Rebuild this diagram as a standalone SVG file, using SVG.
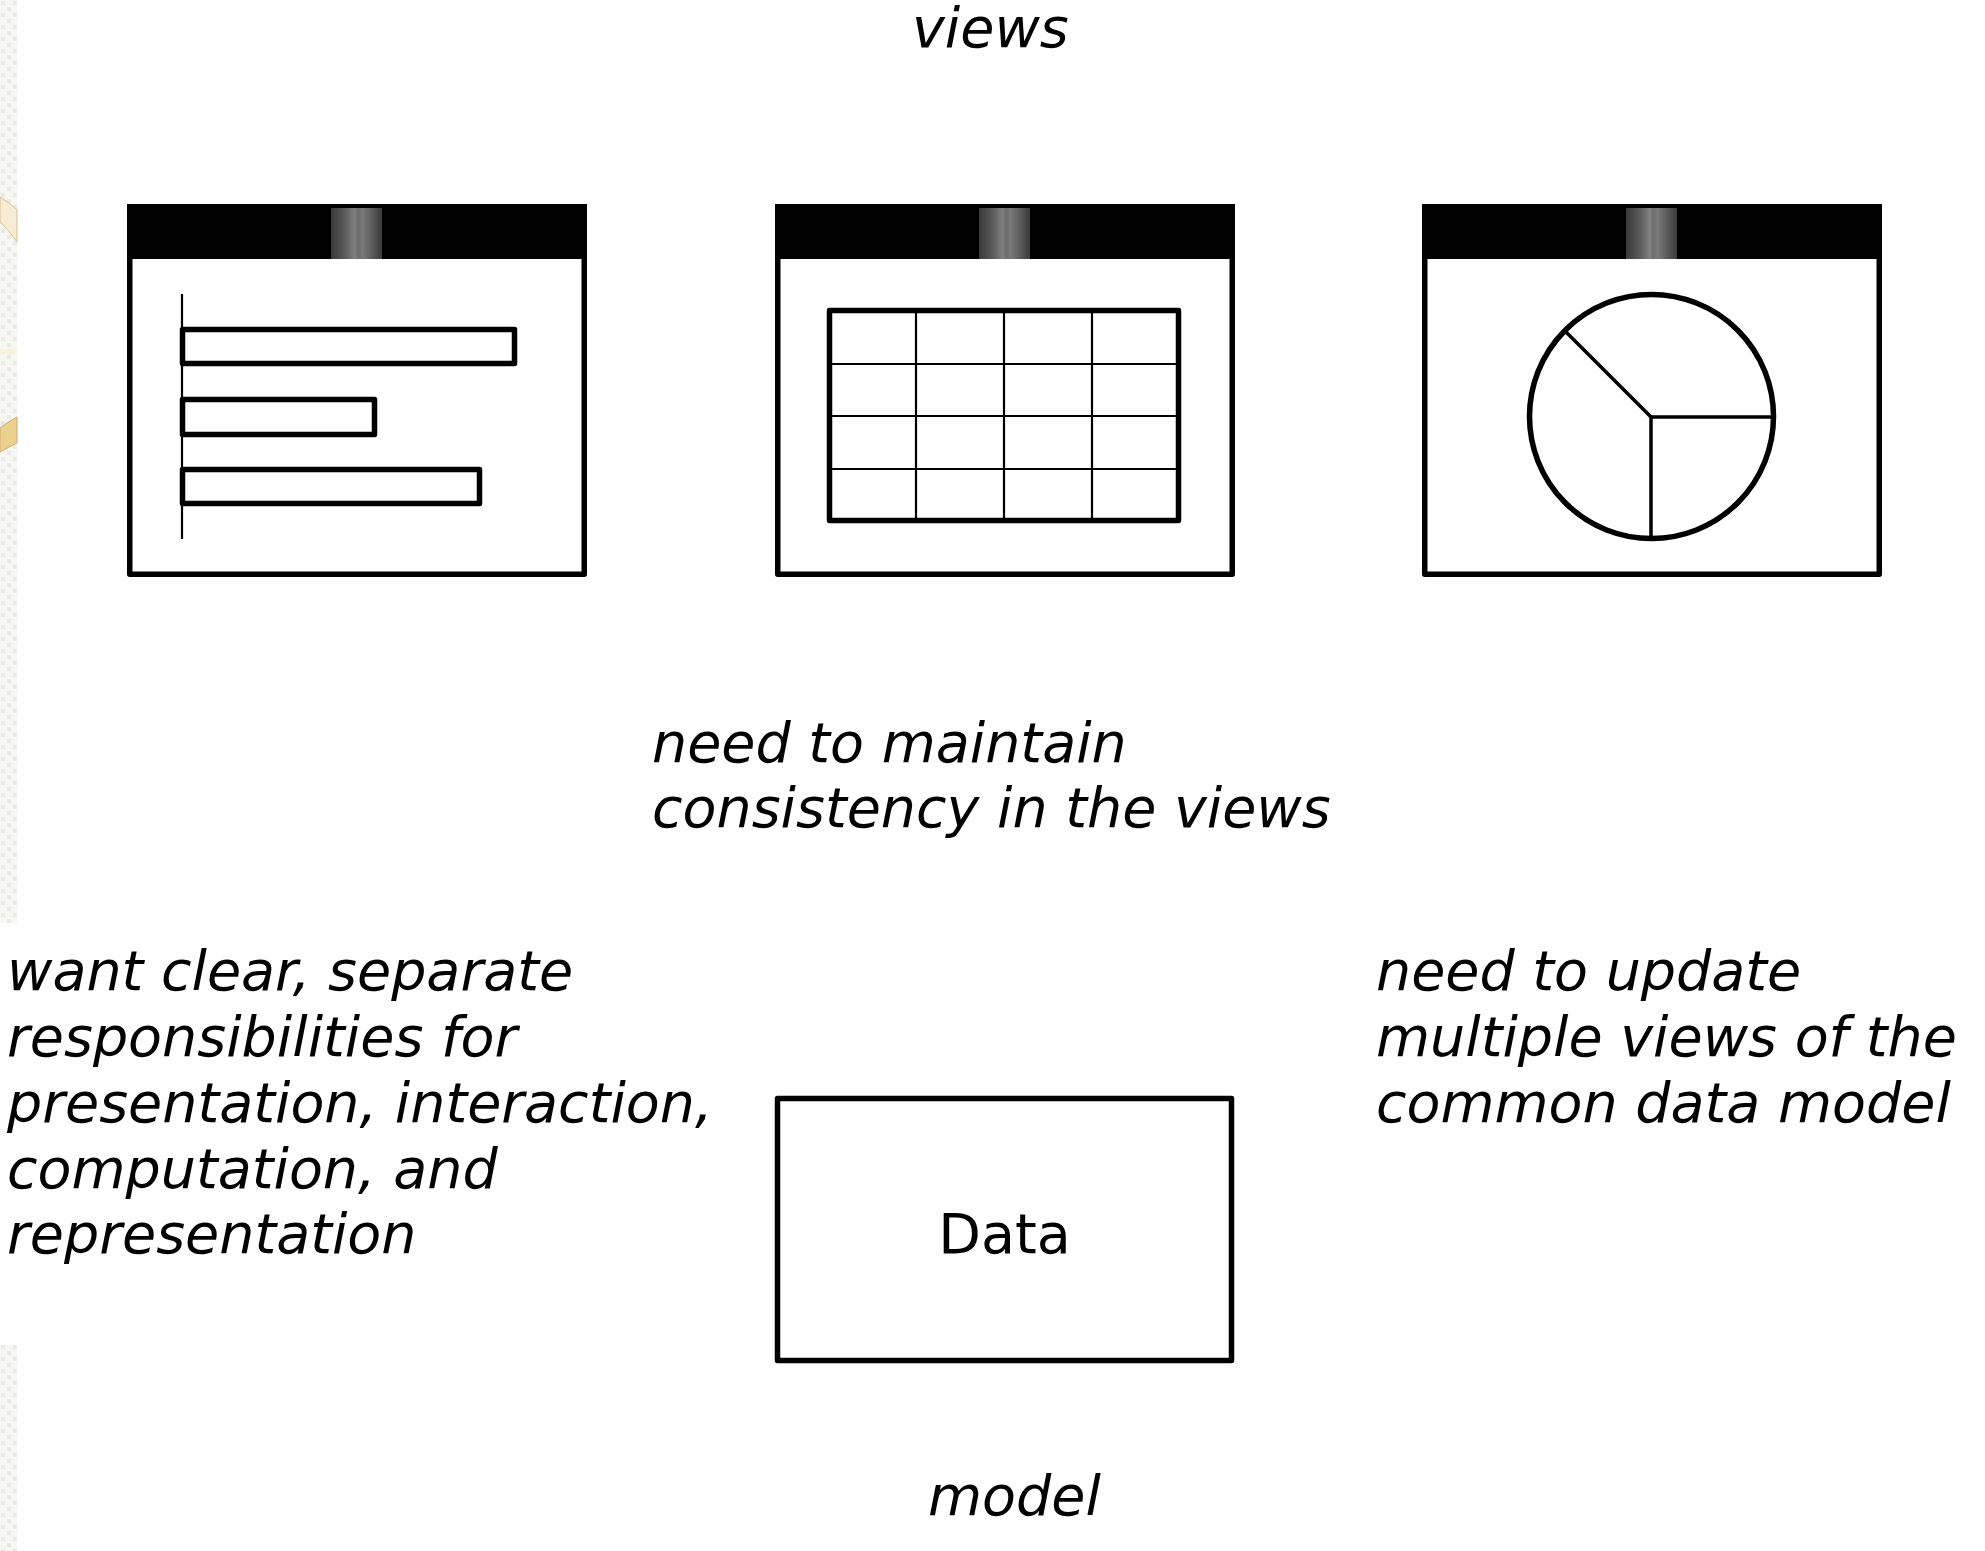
<svg xmlns="http://www.w3.org/2000/svg" width="1985" height="1551" viewBox="0 0 1985 1551">
<style>
.frame{fill:#fff;stroke:#000;stroke-width:5.5;stroke-linejoin:round}
.bar{fill:#000}
.thick{fill:none;stroke:#000;stroke-width:5.5;stroke-linejoin:round}
.thin{fill:none;stroke:#000;stroke-width:2.2}
.med{fill:none;stroke:#000;stroke-width:3.5}
.lbl{font-family:"DejaVu Sans","Liberation Sans",sans-serif;font-size:55.5px;font-style:oblique;fill:#000}
.plain{font-family:"DejaVu Sans","Liberation Sans",sans-serif;font-size:55.5px;fill:#000}
</style>
<defs>
<linearGradient id="knob" x1="0" y1="0" x2="1" y2="0">
<stop offset="0" stop-color="#3a3a3a"/>
<stop offset="0.3" stop-color="#5e5e5e"/>
<stop offset="0.47" stop-color="#828282"/>
<stop offset="0.53" stop-color="#6c6c6c"/>
<stop offset="0.62" stop-color="#7a7a7a"/>
<stop offset="1" stop-color="#3a3a3a"/>
</linearGradient>
<pattern id="checker" x="0" y="0" width="12" height="12" patternUnits="userSpaceOnUse">
<rect width="12" height="12" fill="#f7f7f4"/>
<rect x="1" y="1" width="4" height="4" fill="#e9e9e6"/>
<rect x="7" y="7" width="4" height="4" fill="#e9e9e6"/>
</pattern>
<g id="win">
<rect class="frame" x="2.75" y="2.75" width="454.5" height="367.5"/>
<rect class="bar" x="0" y="0" width="460" height="55"/>
<rect x="204" y="4" width="51" height="51" fill="url(#knob)"/>
</g>
</defs>
<rect width="1985" height="1551" fill="#fff"/>
<g id="background-strip">
<rect x="0" y="0" width="17" height="923" fill="url(#checker)"/>
<rect x="0" y="1345" width="17" height="206" fill="url(#checker)"/>
<path d="M0,197 Q9,202 17,210 L17,242 Q9,230 0,222 Z" fill="#f8ecd6" stroke="#d9c08f" stroke-width="1"/>
<rect x="0" y="349" width="17" height="5" fill="#fdf0d8"/>
<path d="M0,428 Q9,421 17,417 L17,443 Q9,447 0,452 Z" fill="#ecd08f" stroke="#c9ad72" stroke-width="1"/>
</g>
<g id="connectors"/>
<text id="label-views" class="lbl" x="912" y="47">views</text>
<g id="view-bar-chart">
<use href="#win" x="127" y="204"/>
<line class="thin" x1="182" y1="294" x2="182" y2="539"/>
<rect class="thick" x="182.5" y="329.5" width="332" height="34"/>
<rect class="thick" x="182.5" y="399.5" width="192" height="35"/>
<rect class="thick" x="182.5" y="469.5" width="297" height="34"/>
</g>
<g id="view-table">
<use href="#win" x="775" y="204"/>
<rect class="thick" x="829.5" y="310.5" width="349" height="210"/>
<line class="thin" x1="916" y1="312" x2="916" y2="519"/>
<line class="thin" x1="1004" y1="312" x2="1004" y2="519"/>
<line class="thin" x1="1092" y1="312" x2="1092" y2="519"/>
<line class="thin" x1="831" y1="364" x2="1177" y2="364"/>
<line class="thin" x1="831" y1="416" x2="1177" y2="416"/>
<line class="thin" x1="831" y1="469" x2="1177" y2="469"/>
</g>
<g id="view-pie-chart">
<use href="#win" x="1422" y="204"/>
<circle class="thick" cx="1651.5" cy="416.5" r="122"/>
<line class="med" x1="1651" y1="417" x2="1772" y2="417"/>
<line class="med" x1="1651" y1="415.5" x2="1651" y2="538"/>
<line class="med" x1="1652" y1="418" x2="1565" y2="331"/>
</g>
<g id="label-consistency">
<text class="lbl" x="652" y="762">need to maintain</text>
<text class="lbl" x="652" y="827">consistency in the views</text>
</g>
<g id="label-responsibilities">
<text class="lbl" x="7" y="990">want clear, separate</text>
<text class="lbl" x="7" y="1056">responsibilities for</text>
<text class="lbl" x="7" y="1122">presentation, interaction,</text>
<text class="lbl" x="7" y="1188">computation, and</text>
<text class="lbl" x="7" y="1253">representation</text>
</g>
<g id="label-update">
<text class="lbl" x="1376" y="990">need to update</text>
<text class="lbl" x="1376" y="1056">multiple views of the</text>
<text class="lbl" x="1376" y="1122">common data model</text>
</g>
<g id="model-data">
<rect class="thick" x="777.5" y="1098.5" width="454" height="262"/>
<text class="plain" x="1004.5" y="1253" text-anchor="middle">Data</text>
</g>
<text id="label-model" class="lbl" x="928" y="1515">model</text>
</svg>
